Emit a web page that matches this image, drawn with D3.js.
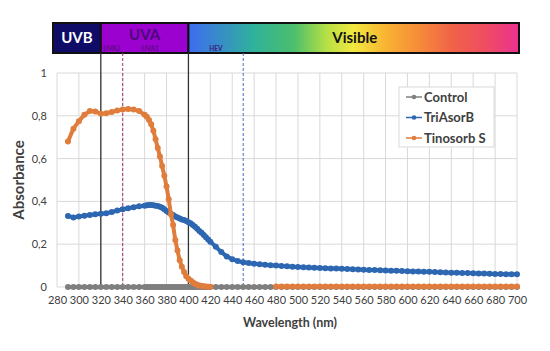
<!DOCTYPE html>
<html><head><meta charset="utf-8">
<script src="https://cdn.jsdelivr.net/npm/d3@7"></script>
<style>
html,body{margin:0;padding:0;background:#fff;}
svg{display:block;font-family:Lato,"Open Sans",sans-serif;}
</style></head>
<body>
<svg id="chart" width="550" height="351"></svg>
<script>
// ---------- data ----------
const wavelengths = [290,295,300,305,310,315,320,325,330,335,340,345,350,355,360,
  362,364,366,368,370,372,374,376,378,380,382,384,386,388,390,392,394,396,398,400,
  402,404,406,408,410,412,414,416,418,420,
  425,430,435,440,445,450,455,460,465,470,475,
  480,485,490,495,500,505,510,515,520,525,530,535,540,545,550,555,560,565,570,575,
  580,585,590,595,600,605,610,615,620,625,630,635,640,645,650,655,660,665,670,675,
  680,685,690,695,700];

const control = [0,0,0,0,0,0,0,0,0,0,0,0,0,0,0,
  0,0,0,0,0,0,0,0,0,0,0,0,0,0,0,0,0,0,0,0,
  0,0,0,0,0,0,0,0,0,0,
  0,0,0,0,0,0,0,0,0,0,0,
  0,0,0,0,0,0,0,0,0,0,0,0,0,0,0,0,0,0,0,0,
  0,0,0,0,0,0,0,0,0,0,0,0,0,0,0,0,0,0,0,0,
  0,0,0,0,0];

const triAsorB = [0.332,0.325,0.33,0.333,0.336,0.34,0.342,0.345,0.35,0.357,0.363,0.368,0.373,0.377,0.38,
  0.382,0.383,0.383,0.382,0.38,0.378,0.375,0.37,0.363,0.355,0.348,0.342,0.336,0.33,0.325,0.32,0.316,0.313,0.308,0.303,
  0.298,0.29,0.281,0.272,0.262,0.253,0.243,0.232,0.222,0.212,
  0.188,0.163,0.143,0.13,0.121,0.116,0.112,0.109,0.106,0.104,0.102,
  0.1,0.098,0.097,0.095,0.093,0.092,0.091,0.09,0.089,0.088,0.087,0.086,0.085,0.084,0.083,0.082,0.081,0.08,0.079,0.078,
  0.077,0.076,0.076,0.075,0.074,0.073,0.072,0.071,0.071,0.07,0.069,0.068,0.067,0.067,0.066,0.065,0.064,0.063,0.063,0.062,
  0.061,0.061,0.06,0.059,0.059];

const tinosorbS = [0.68,0.74,0.775,0.805,0.822,0.82,0.81,0.812,0.818,0.825,0.83,0.832,0.83,0.822,0.805,
  0.796,0.78,0.76,0.73,0.69,0.65,0.61,0.565,0.52,0.47,0.41,0.34,0.29,0.22,0.17,0.125,0.095,0.07,0.05,0.038,
  0.03,0.022,0.015,0.01,0.007,0.005,0.003,0.002,0.001,0.001,
  null,null,null,null,null,null,null,null,null,null,null,
  0.002,0.002,0.002,0.002,0.002,0.002,0.002,0.002,0.002,0.002,0.002,0.002,0.002,0.002,0.002,0.002,0.002,0.002,0.002,0.002,
  0.002,0.002,0.002,0.002,0.002,0.002,0.002,0.002,0.002,0.002,0.002,0.002,0.002,0.002,0.002,0.002,0.002,0.002,0.002,0.002,
  0.002,0.002,0.002,0.002,0.002];

const seriesNames = ["Control","TriAsorB","Tinosorb S"];
const seriesColors = ["#7f7f7f","#2e67b1","#e07d3c"];
const xTicks = [280,300,320,340,360,380,400,420,440,460,480,500,520,540,560,580,600,620,640,660,680,700];
const yTicks = [0,0.2,0.4,0.6,0.8,1];
const bands = [{name:"UVB",from:280,to:320},{name:"UVA",from:320,to:400},{name:"Visible",from:400,to:700}];
const subLabels = [{name:"UVA2",at:330},{name:"UVA1",at:365},{name:"HEV",at:425}];
const solidMarks = [320,400];
const dashedMarks = [{at:340,color:"#a0307a"},{at:450,color:"#3f6fbf"}];

// ---------- layout ----------
const svg = d3.select("#chart");
const x = d3.scaleLinear().domain([280,700]).range([57,517]);
const y = d3.scaleLinear().domain([0,1]).range([287,73]);
const barTop = 23, barBottom = 53;

// gridlines
svg.append("g").selectAll("line").data(xTicks).join("line")
  .attr("x1",d=>x(d)).attr("x2",d=>x(d)).attr("y1",y(0)).attr("y2",y(1))
  .attr("stroke","#d9d9d9").attr("stroke-width",1);
svg.append("g").selectAll("line").data(yTicks).join("line")
  .attr("x1",x(280)).attr("x2",x(700)).attr("y1",d=>y(d)).attr("y2",d=>y(d))
  .attr("stroke","#d9d9d9").attr("stroke-width",1);

// axes labels
const xAxis = svg.append("g").attr("transform",`translate(0,${y(0)})`)
  .call(d3.axisBottom(x).tickValues(xTicks).tickSize(0).tickPadding(9).tickFormat(d3.format("d")));
xAxis.select(".domain").remove();
xAxis.selectAll("text").attr("font-size",11).attr("fill","#404040").attr("font-family","Lato,sans-serif");

const yAxis = svg.append("g").attr("transform",`translate(${x(280)},0)`)
  .call(d3.axisLeft(y).tickValues(yTicks).tickSize(0).tickPadding(10).tickFormat(d=>d===0?"0":d===1?"1":String(d).replace(".",",")));
yAxis.select(".domain").remove();
yAxis.selectAll("text").attr("font-size",11).attr("fill","#404040").attr("font-family","Lato,sans-serif");

svg.append("text").attr("transform","translate(24,180) rotate(-90)")
  .attr("text-anchor","middle").attr("font-size",15).attr("font-weight","bold").attr("fill","#404040")
  .text("Absorbance");
svg.append("text").attr("x",290).attr("y",327)
  .attr("text-anchor","middle").attr("font-size",12.5).attr("font-weight","bold").attr("fill","#404040")
  .text("Wavelength (nm)");

// header band
const defs = svg.append("defs");
const grad = defs.append("linearGradient").attr("id","vis").attr("x1","0%").attr("x2","100%");
[["0","#3e6cf0"],["0.2","#2fb29a"],["0.32","#4cbf6c"],["0.42","#b8e044"],["0.5","#f2e840"],
 ["0.6","#f8b232"],["0.7","#f78a3a"],["0.8","#f06248"],["0.9","#f04c62"],["1","#ea3190"]]
 .forEach(([o,c])=>grad.append("stop").attr("offset",o).attr("stop-color",c));

const bandFill = {UVB:"#0e0c66",UVA:"#9b02cf",Visible:"url(#vis)"};
const bandText = {UVB:"#ffffff",UVA:"#4a0a78",Visible:"#111111"};
const bx = d=> d===280 ? x(280)-4 : d===700 ? x(700)+2 : x(d);
svg.append("g").selectAll("rect").data(bands).join("rect")
  .attr("x",d=>bx(d.from)).attr("width",d=>bx(d.to)-bx(d.from))
  .attr("y",barTop).attr("height",barBottom-barTop)
  .attr("fill",d=>bandFill[d.name]).attr("stroke","#111").attr("stroke-width",2);
svg.append("g").selectAll("text").data(bands).join("text")
  .attr("x",d=>(bx(d.from)+bx(d.to))/2 + (d.name==="Visible"?1:0))
  .attr("y",d=>d.name==="UVA"?40:43)
  .attr("text-anchor","middle").attr("font-size",15).attr("font-weight","bold")
  .attr("fill",d=>bandText[d.name]).text(d=>d.name);
svg.append("g").selectAll("text").data(subLabels).join("text")
  .attr("x",d=>x(d.at)).attr("y",51).attr("text-anchor","middle")
  .attr("font-size",6.5).attr("font-weight","bold").attr("fill",d=>d.name==="HEV"?"#3a1a80":"#5b0a86").text(d=>d.name);

// marker lines
svg.append("g").selectAll("line").data(solidMarks).join("line")
  .attr("x1",d=>x(d)).attr("x2",d=>x(d)).attr("y1",barBottom).attr("y2",y(0))
  .attr("stroke","#333").attr("stroke-width",1.3);
svg.append("g").selectAll("line").data(dashedMarks).join("line")
  .attr("x1",d=>x(d.at)).attr("x2",d=>x(d.at)).attr("y1",barBottom).attr("y2",y(0))
  .attr("stroke",d=>d.color).attr("stroke-width",1).attr("stroke-dasharray","3,2");

// series
const allSeries = [control, triAsorB, tinosorbS];
const line = d3.line().defined(d=>d[1]!==null).x(d=>x(d[0])).y(d=>y(d[1]));
allSeries.forEach((vals,i)=>{
  const pts = wavelengths.map((w,j)=>[w,vals[j]]);
  const g = svg.append("g");
  g.append("path").datum(pts).attr("d",line).attr("fill","none")
    .attr("stroke",seriesColors[i]).attr("stroke-width",4).attr("stroke-linejoin","round");
  g.selectAll("circle").data(pts.filter(d=>d[1]!==null)).join("circle")
    .attr("cx",d=>x(d[0])).attr("cy",d=>y(d[1])).attr("r",3).attr("fill",seriesColors[i]);
});

// legend
const lg = svg.append("g");
lg.append("rect").attr("x",399).attr("y",87).attr("width",95).attr("height",60)
  .attr("fill","#fff").attr("stroke","#d9d9d9");
seriesNames.forEach((n,i)=>{
  const cy = 97 + i*20.5;
  lg.append("line").attr("x1",406).attr("x2",422).attr("y1",cy).attr("y2",cy)
    .attr("stroke",seriesColors[i]).attr("stroke-width",1.5);
  lg.append("circle").attr("cx",414).attr("cy",cy).attr("r",2.3).attr("fill",seriesColors[i]);
  lg.append("text").attr("x",424).attr("y",cy+4.5).attr("font-size",13).attr("font-weight","bold")
    .attr("fill","#404040").text(n);
});
</script>
</body></html>
